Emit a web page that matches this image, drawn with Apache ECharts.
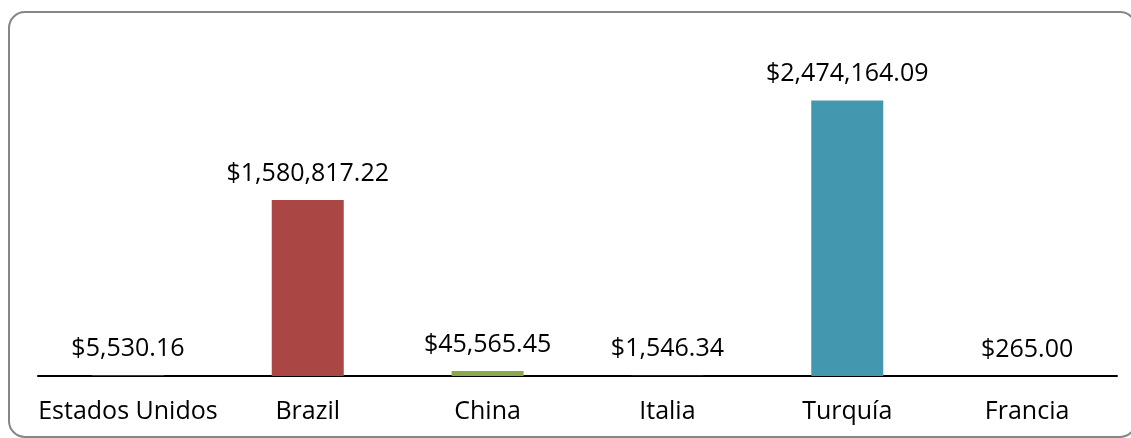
<!DOCTYPE html>
<html lang="es">
<head>
<meta charset="UTF-8">
<title>Ventas por país</title>
<script src="https://cdn.jsdelivr.net/npm/echarts@6/dist/echarts.min.js"></script>
<style>
  html, body { margin: 0; padding: 0; background: #fff; }
</style>
</head>
<body>
<div id="main" style="width: 1131px;height:438px;"></div>
<script>
  const paises = ['Estados Unidos', 'Brazil', 'China', 'Italia', 'Turquía', 'Francia'];
  const montos = [5530.16, 1580817.22, 45565.45, 1546.34, 2474164.09, 265.00];
  const colores = ['#4A7EBB', '#AA4644', '#8BA84E', '#7D60A0', '#4398AF', '#F79646'];

  const fmt = v => '$' + v.toLocaleString('en-US', {minimumFractionDigits: 2, maximumFractionDigits: 2});

  const myChart = echarts.init(document.getElementById('main'));
  const option = {
    animation: false,
    textStyle: { fontFamily: 'Open Sans' },
    grid: { left: 38, right: 14, top: 42, bottom: 62 },
    graphic: [
      {
        type: 'rect',
        shape: { x: 9, y: 12, width: 1127, height: 425, r: 16 },
        style: { fill: 'none', stroke: '#868686', lineWidth: 2 },
        silent: true
      }
    ],
    xAxis: {
      type: 'category',
      data: paises,
      axisLine: { lineStyle: { color: '#000', width: 2 } },
      axisTick: { show: false },
      axisLabel: { color: '#000', fontSize: 25, margin: 23, interval: 0 }
    },
    yAxis: {
      type: 'value',
      min: 0,
      max: 3000000,
      show: false,
      splitLine: { show: false }
    },
    series: [
      {
        type: 'bar',
        barWidth: 72,
        data: montos.map((v, i) => ({ value: v, itemStyle: { color: colores[i] } })),
        label: {
          show: true,
          position: 'top',
          distance: 14,
          color: '#000',
          fontSize: 25,
          formatter: p => fmt(p.value)
        }
      }
    ]
  };
  myChart.setOption(option);
</script>
</body>
</html>
